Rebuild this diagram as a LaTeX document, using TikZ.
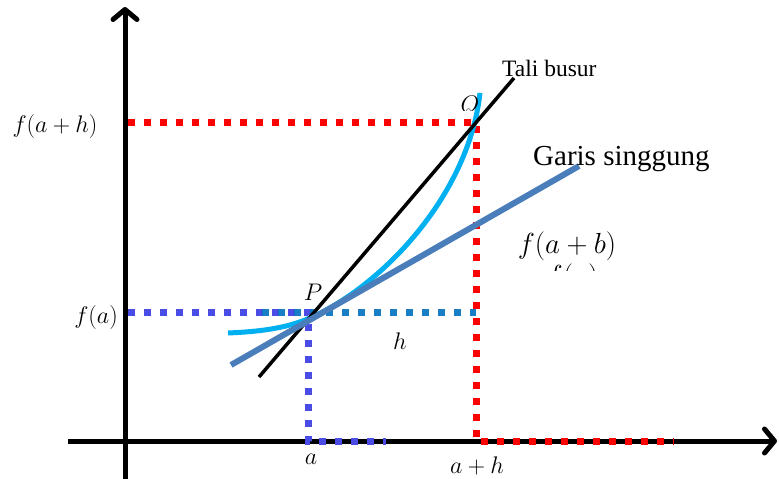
\RequirePackage{fix-cm}
\documentclass[tikz,border=0pt]{standalone}
\usepackage{fontspec}
\usetikzlibrary{arrows.meta}
\newfontfamily\timesfont{Liberation Serif}
\definecolor{redd}{HTML}{FF0000}
\definecolor{violetb}{HTML}{4B4BE5}
\definecolor{dblue}{HTML}{0070C0}
\definecolor{cyanc}{HTML}{00B0F0}
\definecolor{tang}{HTML}{4A7EBB}
\begin{document}
\begin{tikzpicture}[x=1pt,y=-1pt,
  axisline/.style={line width=5pt,-{Straight Barb[length=10pt,width=24pt,round]}},
  dots/.style={line width=7pt,dash pattern=on 7pt off 9pt},
  mlabel/.style={inner sep=0pt,font=\fontsize{24}{28}\selectfont},
  biglabel/.style={inner sep=0pt,font=\fontsize{29}{34}\selectfont},
  tlabel/.style={inner sep=0pt,anchor=base west},
]
\useasboundingbox (0,0) rectangle (779,479);
% axes
\coordinate (ybot) at (125,479);
\coordinate (ytop) at (125,7);
\coordinate (xleft) at (68,441);
\coordinate (xright) at (777,441);
\draw[axisline] (ybot) -- (ytop);
\draw[axisline] (xleft) -- (xright);
% key points
\coordinate (fah) at (128,122);
\coordinate (Q) at (476,122);
\coordinate (Qx) at (476,441);
\coordinate (xend) at (674,441);
\coordinate (fa) at (128,312);
\coordinate (Pm) at (308,312);
\coordinate (Px) at (308,441);
\coordinate (aend) at (386,441);
\coordinate (hstart) at (262,312);
\coordinate (hend) at (476,312);
% dotted guides
\draw[dots,redd] (fah) -- (Q) -- (Qx) -- (xend);
\draw[dots,violetb] (fa) -- (Pm) -- (Px) -- (aend);
\draw[dots,dblue,opacity=0.9] (hstart) -- (hend);
% curve
\coordinate (cA) at (228,333);
\coordinate (cP) at (305,320);
\coordinate (cB) at (480,93);
\draw[cyanc,line width=5pt] (cA) .. controls (250,332) and (280,330) .. (cP)
  .. controls (375,292) and (468,200) .. (cB);
% chord
\coordinate (c1) at (259,377);
\coordinate (c2) at (514,78);
\draw[black,line width=3.5pt] (c1) -- (c2);
% tangent
\coordinate (t1) at (231,365);
\coordinate (t2) at (579,166);
\draw[tang,line width=6pt] (t1) -- (t2);
% labels
\node[mlabel] (lfah) at (55,126) {$f(a+h)$};
\node[mlabel,anchor=east] (lfa) at (118,317) {$f(a)$};
\node[mlabel] (lP) at (313,292) {$P$};
\node[mlabel] (lh) at (400,341) {$h$};
\node[mlabel] (la) at (311,459) {$a$};
\node[mlabel] (lah) at (477,466) {$a+h$};
\node[tlabel,font=\timesfont\fontsize{23.5}{28}\selectfont] (ltali) at (502,76) {Tali busur};
\node[tlabel,font=\timesfont\fontsize{29}{34}\selectfont] (lgaris) at (533,165) {Garis singgung};
\node[biglabel,anchor=north] (lfab) at (567,232) {$f(a+b)$};
\begin{scope}
  \clip (440,85) rectangle (500,110);
  \node[mlabel,anchor=north] (lQ) at (470,96) {$Q$};
\end{scope}
\begin{scope}
  \clip (520,255) rectangle (640,270);
  \node[biglabel,anchor=north] (lfa2) at (572,264) {$f(a)$};
\end{scope}
\end{tikzpicture}
\end{document}
